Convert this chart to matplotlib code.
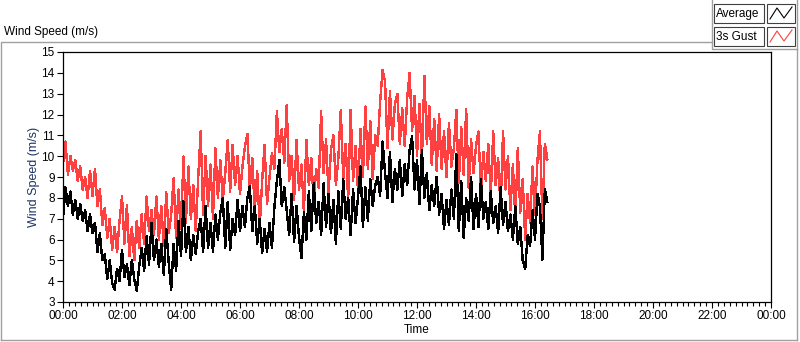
import matplotlib
matplotlib.use('Agg')
import matplotlib.pyplot as plt
from matplotlib.lines import Line2D
from matplotlib.patches import Rectangle
from matplotlib.ticker import MultipleLocator, FuncFormatter
import numpy as np

plt.rcParams['font.family'] = ['Liberation Sans', 'DejaVu Sans']

# samples every 5 minutes from 00:00
step_min = 5

gust = [
    9.6, 10.7, 9.1, 10.0, 9.3, 9.8, 8.8, 9.5, 8.4, 9.0, 8.0, 9.3,
    8.1, 9.4, 7.6, 8.4, 6.7, 7.5, 6.1, 7.0, 5.5, 6.6, 5.4, 6.9,
    8.06, 5.8, 7.65, 5.2, 6.6, 5.0, 6.9, 5.6, 7.2, 5.8, 8.06, 6.4,
    7.4, 6.2, 8.06, 6.0, 7.6, 5.7, 8.27, 6.3, 7.2, 8.94, 6.1, 8.4,
    6.5, 9.98, 6.8, 9.5, 7.0, 8.6, 6.4, 9.0, 11.18, 7.2, 10.0, 7.6,
    9.6, 7.0, 10.38, 8.0, 9.8, 7.9, 9.2, 10.78, 8.3, 10.55, 8.6, 10.0,
    8.2, 9.5, 10.46, 11.07, 8.4, 9.9, 7.4, 9.3, 6.6, 8.8, 10.55, 7.7,
    9.0, 10.15, 9.4, 12.14, 10.2, 11.3, 9.7, 12.46, 8.8, 10.0, 7.9, 10.78,
    8.4, 9.6, 7.3, 10.78, 8.6, 9.9, 7.8, 9.4, 8.5, 12.14, 9.2, 10.8,
    8.2, 10.3, 11.0, 8.6, 9.9, 12.22, 8.9, 10.6, 7.9, 12.22, 8.8, 10.5,
    8.3, 11.3, 9.0, 12.38, 9.4, 11.7, 8.9, 11.0, 10.5, 12.6, 14.14, 13.58,
    10.4, 13.1, 10.8, 12.5, 13.0, 10.6, 12.3, 10.5, 12.8, 14.0, 11.2, 12.9,
    10.0, 12.5, 9.8, 13.85, 10.6, 12.4, 9.6, 11.8, 9.3, 12.0, 9.4, 11.2,
    9.0, 11.6, 9.5, 10.4, 12.22, 8.7, 11.4, 9.1, 12.25, 8.5, 10.8, 9.2,
    10.5, 11.18, 8.3, 10.2, 8.8, 10.6, 8.1, 11.18, 8.6, 9.9, 7.5, 11.2,
    8.4, 10.0, 7.4, 9.6, 7.0, 10.4, 7.3, 8.9, 6.0, 8.2, 6.8, 9.5,
    7.2, 9.8, 11.18, 7.0, 10.6, 9.85,
]

average = [
    7.0, 8.5, 7.6, 8.3, 7.2, 7.9, 7.0, 7.7, 6.9, 7.4, 6.4, 7.2,
    6.3, 6.8, 5.4, 6.3, 5.0, 5.3, 4.1, 5.0, 3.9, 3.59, 4.6, 4.0,
    5.5, 4.2, 4.8, 3.8, 5.0, 4.1, 3.54, 4.7, 5.6, 4.5, 6.15, 4.8,
    6.8, 5.0, 6.0, 4.7, 5.8, 4.3, 6.5, 4.9, 3.56, 5.8, 4.5, 6.9,
    5.2, 7.83, 5.4, 6.6, 5.0, 6.2, 5.3, 6.4, 7.0, 5.4, 7.6, 5.6,
    6.8, 5.4, 7.2, 6.0, 7.3, 7.99, 5.6, 7.8, 5.5, 7.0, 6.2, 7.9,
    6.4, 7.6, 6.6, 8.0, 8.55, 6.4, 7.6, 5.8, 7.0, 5.35, 6.5, 5.4,
    6.8, 5.6, 7.6, 8.8, 9.82, 7.6, 8.5, 7.4, 6.2, 8.2, 5.9, 7.6,
    6.1, 5.11, 7.3, 6.0, 8.3, 6.4, 8.7, 6.8, 7.8, 6.2, 8.7, 6.6,
    8.2, 6.3, 7.9, 5.8, 8.3, 6.5, 8.9, 7.0, 8.0, 6.2, 8.4, 6.8,
    8.0, 9.5, 6.6, 8.5, 6.9, 8.9, 7.6, 8.6, 9.0, 8.1, 10.7, 9.2,
    8.0, 10.2, 7.8, 9.4, 8.4, 9.8, 8.1, 9.6, 8.6, 10.3, 10.94, 8.4,
    9.8, 7.7, 10.3, 8.0, 9.2, 7.4, 8.6, 7.6, 9.0, 7.2, 8.2, 6.5,
    7.9, 6.7, 8.4, 7.0, 10.1, 6.4, 8.8, 6.1, 8.0, 6.9, 9.0, 6.5,
    8.2, 6.6, 8.9, 7.0, 7.8, 6.5, 8.3, 6.8, 7.6, 6.3, 8.5, 6.7,
    7.8, 6.4, 7.2, 6.0, 7.6, 5.8, 6.6, 5.0, 4.58, 6.2, 5.7, 7.4,
    6.0, 8.2, 7.6, 5.03, 8.4, 7.8,
]

hours = np.arange(len(gust)) * step_min / 60.0

W, H = 800, 342
fs = 8.5
fig = plt.figure(figsize=(W / 100, H / 100), dpi=100)
ax = fig.add_axes([63 / W, 1 - 302 / H, 708 / W, 250 / H])

ax.plot(hours, gust, color='#ff4040', lw=1.0, antialiased=False)
ax.plot(hours, average, color='black', lw=1.0, antialiased=False)

ax.set_xlim(0, 24)
ax.set_ylim(3, 15)
ax.xaxis.set_major_locator(MultipleLocator(2))
ax.xaxis.set_minor_locator(MultipleLocator(0.2))
ax.yaxis.set_major_locator(MultipleLocator(1))
ax.xaxis.set_major_formatter(FuncFormatter(lambda v, p: '%02d:00' % (int(round(v)) % 24)))
ax.tick_params(axis='both', which='major', length=4, width=0.8, labelsize=fs, pad=2)
ax.tick_params(axis='x', which='minor', length=3, width=0.8)
for s in ax.spines.values():
    s.set_linewidth(0.9)

ax.set_ylabel('Wind Speed (m/s)', fontsize=9, color='#1c3464', labelpad=1)
ax.set_xlabel('Time', fontsize=fs, labelpad=1)

# chart frame and title
gray = '#a0a0a0'
def fline(xs, ys, c=gray, lw=1.0):
    fig.add_artist(Line2D([x / W for x in xs], [1 - y / H for y in ys],
                          transform=fig.transFigure, color=c, lw=lw))

fline([1, 1, 712], [340, 42, 42])
fline([1, 797], [340, 340])
fline([797, 797], [0, 340])
fline([712, 712, 797], [0, 49, 49])
fig.text(4 / W, 1 - 32 / H, 'Wind Speed (m/s)', fontsize=fs, va='center', ha='left')

# legend
names = ['Average', '3s Gust']
colors = ['black', '#ff4040']
for i, (name, c) in enumerate(zip(names, colors)):
    y0 = 4 + i * 23
    fig.add_artist(Rectangle((714 / W, 1 - (y0 + 19) / H), 50 / W, 19 / H,
                             transform=fig.transFigure, fc='white', ec='#404040', lw=0.8))
    fig.add_artist(Rectangle((767 / W, 1 - (y0 + 19) / H), 28 / W, 19 / H,
                             transform=fig.transFigure, fc='white', ec='#404040', lw=0.8))
    fig.text(715.5 / W, 1 - (y0 + 9.5) / H, name, fontsize=fs, va='center', ha='left')
    fline([770, 777, 784, 792], [y0 + 15, y0 + 4, y0 + 14, y0 + 3], c=c, lw=0.8)

fig.savefig('out.png', dpi=100)
